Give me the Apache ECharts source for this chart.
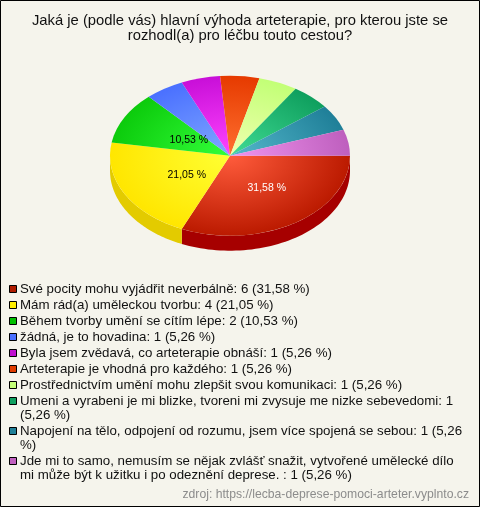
<!DOCTYPE html>
<html><head><meta charset="utf-8">
<style>html,body{margin:0;padding:0;background:#f5f4ec}#c{width:480px;height:507px}</style>
<script src="https://cdn.jsdelivr.net/npm/echarts@6/dist/echarts.min.js"></script>
</head><body><div id="c"></div>
<script>
const titleText = 'Jaká je (podle vás) hlavní výhoda arteterapie, pro kterou jste se\nrozhodl(a) pro léčbu touto cestou?';
const sourceText = 'zdroj: https://lecba-deprese-pomoci-arteter.vyplnto.cz';
const values = [6, 4, 2, 1, 1, 1, 1, 1, 1, 1];
const legendTexts = [
  'Své pocity mohu vyjádřit neverbálně: 6 (31,58 %)',
  'Mám rád(a) uměleckou tvorbu: 4 (21,05 %)',
  'Během tvorby umění se cítím lépe: 2 (10,53 %)',
  'žádná, je to hovadina: 1 (5,26 %)',
  'Byla jsem zvědavá, co arteterapie obnáší: 1 (5,26 %)',
  'Arteterapie je vhodná pro každého: 1 (5,26 %)',
  'Prostřednictvím umění mohu zlepšit svou komunikaci: 1 (5,26 %)',
  'Umeni a vyrabeni je mi blizke, tvoreni mi zvysuje me nizke sebevedomi: 1\n(5,26 %)',
  'Napojení na tělo, odpojení od rozumu, jsem více spojená se sebou: 1 (5,26\n%)',
  'Jde mi to samo, nemusím se nějak zvlášť snažit, vytvořené umělecké dílo\nmi může být k užitku i po odeznění deprese. : 1 (5,26 %)'
];
const sliceLabels = ['31,58 %', '21,05 %', '10,53 %', '', '', '', '', '', '', ''];
const labelColors = ['#ffffff', '#000000', '#000000'];
const labelFrac = [[0.56, 0.48], [0.41, 0.5], [0.39, 0.42]];
const edgeColors = ['#bb1a00', '#ffe600', '#0ccb0c', '#4a70ff', '#c80fd8', '#e63a00', '#c2ff76', '#0f9f5e', '#1f7f98', '#be5fbe'];
const coreColors = ['#ff5c3c', '#ffff33', '#33ff3a', '#80a8ff', '#ff44ff', '#ff7030', '#f0ffb0', '#40dc94', '#55b8cc', '#f094ee'];
const sideColors = ['#a60000', '#e3cb00', '#0a9a0a', '#3050c0', '#9a0aa8', '#b02c00', '#98c858', '#0a7a48', '#185f74', '#904890'];
const swatchColors = ['#b01c00', '#ffee00', '#00c000', '#4a70ff', '#c010d0', '#e03c00', '#c4ff78', '#0fa060', '#208098', '#c060c0'];

const CX = 230, CY = 155.7, RX = 120, RY = 80, DEPTH = 15;
const total = values.reduce((a, b) => a + b, 0);
const ends = []; values.reduce((s, v, i) => (ends[i] = s + v / total * Math.PI * 2), 0);
const starts = ends.map((e, i) => i ? ends[i - 1] : 0);

function renderSlice(params, api) {
  const i = params.dataIndex, t0 = starts[i], t1 = ends[i];
  const kids = [];
  const sa = Math.max(t0, 0), sb = Math.min(t1, Math.PI);
  if (sb > sa) {
    const top = [], bot = [];
    for (let k = 0; k <= 60; k++) {
      const t = sa + (sb - sa) * k / 60, x = CX + RX * Math.cos(t), y = CY + RY * Math.sin(t);
      top.push([x, y]); bot.unshift([x, y + DEPTH]);
    }
    kids.push({ type: 'polygon', shape: { points: top.concat(bot) }, style: { fill: sideColors[i] } });
  }
  kids.push({
    type: 'sector',
    shape: { cx: CX, cy: CY, r: RX, r0: 0, startAngle: t0, endAngle: t1, clockwise: true },
    originX: CX, originY: CY, scaleY: RY / RX,
    style: { fill: new echarts.graphic.RadialGradient(CX, CY, RX, [
      { offset: 0, color: coreColors[i] }, { offset: 1, color: edgeColors[i] }], true) }
  });
  if (sliceLabels[i]) {
    const m = (t0 + t1) / 2;
    kids.push({ type: 'text', z2: 10, style: {
      text: sliceLabels[i], x: CX + RX * labelFrac[i][0] * Math.cos(m), y: CY + RY * labelFrac[i][1] * Math.sin(m),
      fill: labelColors[i], font: '10.5px "Liberation Sans", Arial, sans-serif', align: 'center', verticalAlign: 'middle' } });
  }
  return { type: 'group', children: kids };
}

const FONT = '13.3px "Liberation Sans", Arial, sans-serif';
const LINE = 14, GAP = 2;
const graphics = [
  { type: 'rect', silent: true, z: -1, shape: { x: 0.5, y: 0.5, width: 479, height: 506 }, style: { fill: '#f5f4ec', stroke: '#000', lineWidth: 1 } },
  { type: 'text', style: { text: titleText, x: 240, y: 13, align: 'center', verticalAlign: 'top', fill: '#111', lineHeight: 15, font: '14.8px "Liberation Sans", Arial, sans-serif' } },
  { type: 'text', style: { text: sourceText, x: 469, y: 495, align: 'right', verticalAlign: 'middle', fill: '#8c8c8c', font: '12.2px "Liberation Sans", Arial, sans-serif' } }
];
let ly = 282;
legendTexts.forEach((txt, i) => {
  const n = txt.split('\n').length;
  graphics.push({ type: 'rect', shape: { x: 9.5, y: ly + 3.5, width: 7, height: 7 }, style: { fill: swatchColors[i], stroke: '#000', lineWidth: 1 } });
  graphics.push({ type: 'text', style: { text: txt, x: 20, y: ly, align: 'left', verticalAlign: 'top', fill: '#111', lineHeight: LINE, font: FONT } });
  ly += n * LINE + GAP;
});

const chart = echarts.init(document.getElementById('c'), null, { renderer: 'canvas' });
chart.setOption({
  animation: false,
  backgroundColor: '#f5f4ec',
  graphic: graphics,
  series: [{ type: 'custom', coordinateSystem: 'none', data: values, renderItem: renderSlice, silent: true }]
});
</script></body></html>
